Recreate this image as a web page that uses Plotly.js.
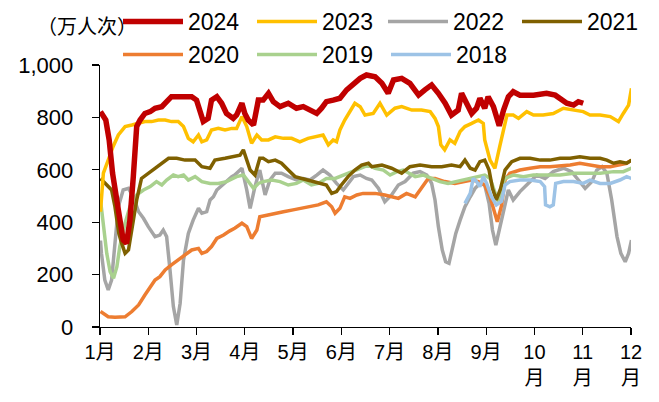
<!DOCTYPE html>
<html>
<head>
<meta charset="utf-8">
<script src="https://cdn.plot.ly/plotly-3.0.1.min.js"></script>
<style>html,body{margin:0;padding:0;background:#fff;}#chart{width:659px;height:402px;}</style>
</head>
<body>
<div id="chart"></div>
<script>
// x = months elapsed since the 1月 tick (0 = 1月, 11 = 12月)
const monthTicks = [0,1,2,3,4,5,6,7,8,9,10,11];
const monthLabels = ["1月","2月","3月","4月","5月","6月","7月","8月","9月","10<br>月","11<br>月","12<br>月"];
const yTicks = [0,200,400,600,800,1000];
const yLabels = ["0","200","400","600","800","1,000"];

const x2024 = [0.01,0.12,0.19,0.26,0.38,0.48,0.55,0.62,0.69,0.76,0.83,0.93,1.04,1.14,1.28,1.38,1.48,1.69,1.90,2.00,2.07,2.14,2.24,2.31,2.42,2.52,2.62,2.76,2.83,2.94,3.00,3.07,3.18,3.28,3.38,3.49,3.59,3.73,3.90,4.07,4.21,4.38,4.49,4.59,4.69,4.83,4.97,5.11,5.25,5.39,5.52,5.70,5.84,5.97,6.08,6.25,6.42,6.60,6.73,6.87,7.01,7.15,7.28,7.42,7.49,7.59,7.70,7.80,7.87,7.97,8.04,8.15,8.27,8.36,8.46,8.56,8.70,8.98,9.25,9.43,9.56,9.67,9.81,9.91,10.01];
const y2024 = [822,790,714,587,447,332,319,408,574,765,790,815,822,835,841,860,879,879,879,866,828,784,796,866,879,854,815,796,809,854,815,790,771,866,866,892,860,841,854,835,841,828,815,835,860,866,873,905,930,949,962,955,930,892,943,949,930,885,905,924,892,854,809,828,892,854,815,835,873,835,879,841,768,828,879,898,885,885,892,885,866,854,847,860,854];

const x2023 = [0.01,0.07,0.17,0.27,0.38,0.52,0.66,0.80,0.93,1.07,1.21,1.35,1.48,1.62,1.73,1.83,1.93,2.04,2.11,2.21,2.31,2.45,2.59,2.73,2.83,2.94,3.04,3.14,3.25,3.35,3.49,3.63,3.80,3.97,4.14,4.31,4.49,4.62,4.73,4.83,4.90,4.97,5.07,5.18,5.28,5.39,5.49,5.66,5.80,5.94,6.11,6.25,6.46,6.66,6.84,6.94,7.01,7.06,7.14,7.25,7.35,7.46,7.56,7.70,7.84,7.94,7.97,8.08,8.18,8.28,8.36,8.43,8.56,8.67,8.84,8.98,9.18,9.39,9.60,9.81,10.01,10.15,10.36,10.57,10.74,10.84,10.95,11.01];
const y2023 = [440,587,637,688,733,765,771,777,784,784,790,790,784,784,765,720,707,733,707,714,752,758,752,758,758,803,765,701,733,714,714,726,720,720,707,720,726,733,695,714,707,752,790,822,854,841,809,815,854,809,835,841,828,828,822,796,765,695,676,714,701,746,765,777,790,777,714,637,605,688,752,809,809,796,822,809,809,815,835,828,822,809,809,803,784,815,847,911];

const x2022 = [0.01,0.03,0.10,0.17,0.24,0.31,0.38,0.48,0.59,0.69,0.80,0.90,1.00,1.14,1.24,1.31,1.38,1.45,1.52,1.59,1.66,1.73,1.83,1.93,2.04,2.11,2.21,2.28,2.35,2.42,2.56,2.73,2.79,2.94,3.04,3.11,3.21,3.31,3.42,3.52,3.63,3.76,3.90,4.07,4.21,4.35,4.49,4.62,4.76,4.90,5.04,5.14,5.25,5.39,5.52,5.63,5.77,5.90,6.04,6.18,6.32,6.49,6.63,6.77,6.87,6.94,7.01,7.09,7.16,7.23,7.30,7.37,7.46,7.56,7.67,7.77,7.87,7.97,8.06,8.13,8.20,8.27,8.36,8.46,8.56,8.70,8.87,9.05,9.22,9.39,9.60,9.77,9.91,10.05,10.19,10.29,10.40,10.50,10.60,10.71,10.79,10.88,10.95,11.01];
const y2022 = [330,281,179,141,179,307,459,523,529,497,440,415,383,345,351,370,345,218,78,8,90,256,357,408,453,434,440,485,497,523,548,574,580,606,523,453,536,599,504,561,587,587,574,561,567,561,580,599,580,548,523,548,574,580,567,561,529,478,504,542,555,587,593,580,548,485,383,294,249,243,307,357,408,459,497,529,548,542,472,370,313,370,434,523,485,517,548,580,567,593,606,593,561,529,555,599,612,587,485,345,281,249,281,332];

const x2021 = [0.01,0.12,0.24,0.31,0.39,0.45,0.52,0.59,0.66,0.76,0.86,1.00,1.14,1.28,1.42,1.59,1.76,1.97,2.11,2.28,2.38,2.59,2.73,2.79,2.90,2.97,3.04,3.11,3.21,3.31,3.38,3.49,3.63,3.76,3.90,4.04,4.18,4.31,4.45,4.59,4.69,4.80,4.90,5.00,5.14,5.28,5.42,5.56,5.63,5.84,6.04,6.25,6.42,6.63,6.87,7.08,7.28,7.46,7.56,7.67,7.77,7.87,7.97,8.06,8.13,8.21,8.30,8.39,8.53,8.70,8.91,9.12,9.32,9.53,9.74,9.94,10.15,10.36,10.50,10.64,10.77,10.91,11.01];
const y2021 = [567,548,523,459,357,319,281,294,370,485,567,587,606,625,644,644,637,637,612,606,637,644,650,650,656,676,637,599,580,644,644,631,637,625,599,574,567,561,555,548,542,510,517,542,574,599,618,625,612,618,606,587,612,618,612,612,618,612,637,606,599,631,637,599,529,485,529,599,631,644,644,637,637,644,644,650,644,644,637,625,631,625,637];

const x2020 = [0.01,0.17,0.31,0.52,0.66,0.80,0.93,1.04,1.14,1.24,1.35,1.48,1.62,1.76,1.90,2.04,2.11,2.21,2.31,2.42,2.56,2.69,2.79,2.94,3.04,3.14,3.25,3.31,3.45,3.63,3.80,4.00,4.18,4.35,4.52,4.69,4.80,4.87,4.97,5.07,5.18,5.32,5.45,5.70,5.90,6.18,6.35,6.53,6.66,6.80,6.94,7.14,7.35,7.56,7.70,7.84,7.97,8.08,8.15,8.23,8.32,8.39,8.49,8.70,8.91,9.12,9.32,9.53,9.74,9.94,10.15,10.36,10.57,10.74,10.91,11.01];
const y2020 = [59,39,37,39,59,84,122,154,179,192,218,237,256,275,294,300,281,288,307,338,351,367,377,396,383,338,370,421,427,434,440,447,453,459,466,478,459,434,453,497,491,504,510,510,504,491,510,497,529,567,567,555,548,555,561,555,542,497,447,402,465,561,587,599,606,612,612,615,618,625,618,612,612,618,625,637];

const x2019 = [0.01,0.07,0.14,0.21,0.28,0.35,0.41,0.52,0.62,0.76,0.90,1.04,1.17,1.28,1.38,1.52,1.62,1.73,1.83,1.97,2.11,2.28,2.45,2.62,2.76,2.83,2.97,3.07,3.18,3.28,3.38,3.56,3.73,3.90,4.07,4.21,4.38,4.52,4.69,4.87,5.04,5.21,5.39,5.56,5.70,5.87,6.01,6.15,6.28,6.39,6.53,6.70,6.87,7.04,7.21,7.39,7.56,7.70,7.84,7.97,8.08,8.18,8.25,8.32,8.39,8.56,8.77,8.98,9.25,9.53,9.81,10.08,10.36,10.64,10.84,11.01];
const y2019 = [485,383,281,211,186,230,307,396,459,504,523,536,555,542,561,580,574,580,561,574,555,548,548,555,567,574,580,555,529,548,555,561,555,542,548,561,542,548,567,567,580,593,606,618,606,599,580,593,599,587,574,580,567,555,548,555,561,567,574,580,567,510,478,536,567,580,574,580,580,580,587,587,587,593,593,606];

const x2018 = [7.56,7.67,7.73,7.80,7.87,7.94,8.01,8.11,8.21,8.32,8.39,8.49,8.70,8.91,9.12,9.21,9.23,9.32,9.39,9.44,9.60,9.81,10.01,10.15,10.36,10.57,10.77,10.91,11.01];
const y2018 = [472,510,567,555,536,574,548,497,466,480,542,555,561,561,555,536,466,459,466,548,555,555,548,561,548,548,561,574,567];

const series = [
  {name:"2022", x:x2022, y:y2022, color:"#A5A5A5", w:3.5, rank:3, lg:"legend2"},
  {name:"2020", x:x2020, y:y2020, color:"#ED7D31", w:3.5, rank:5, lg:"legend3"},
  {name:"2019", x:x2019, y:y2019, color:"#A9D18E", w:3.5, rank:6, lg:"legend3"},
  {name:"2021", x:x2021, y:y2021, color:"#7F6000", w:3.5, rank:4, lg:"legend2"},
  {name:"2018", x:x2018, y:y2018, color:"#9DC3E6", w:3.5, rank:7, lg:"legend3"},
  {name:"2023", x:x2023, y:y2023, color:"#FFC000", w:3.5, rank:2, lg:"legend"},
  {name:"2024", x:x2024, y:y2024, color:"#C00000", w:5.5, rank:1, lg:"legend"}
];

const traces = series.map(s => ({
  type:"scatter", mode:"lines", name:s.name, x:s.x, y:s.y,
  line:{color:s.color, width:s.w, shape:"linear"},
  legend:s.lg, legendrank:s.rank, hoverinfo:"skip"
}));

const numFont = "Liberation Sans, Arial, sans-serif";

function legendBox(px, py) {
  return {
    orientation:"h", xref:"container", yref:"container",
    x:px/659, y:1 - py/402, xanchor:"left", yanchor:"top",
    entrywidth:59, entrywidthmode:"pixels",
    itemwidth:60,
    font:{family:numFont, size:23, color:"#000"},
    bgcolor:"rgba(0,0,0,0)", borderwidth:0,
    traceorder:"normal"
  };
}

const layout = {
  width:659, height:402,
  margin:{l:100, r:28, t:65, b:75, autoexpand:false},
  paper_bgcolor:"#fff", plot_bgcolor:"#fff",
  font:{family:numFont, size:22, color:"#000"},
  showlegend:true,
  legend:legendBox(118, 0),
  legend2:legendBox(383, 0),
  legend3:legendBox(118, 33),
  xaxis:{
    range:[0,11], tickmode:"array", tickvals:monthTicks, ticktext:monthLabels,
    showline:true, linecolor:"#000", linewidth:1.3,
    ticks:"outside", ticklen:7, tickcolor:"#000", tickwidth:1.3,
    showgrid:false, zeroline:false, tickangle:0,
    tickfont:{family:numFont + ", Noto Sans CJK SC", size:20}
  },
  yaxis:{
    range:[0,1000], tickmode:"array", tickvals:yTicks, ticktext:yLabels,
    showline:true, linecolor:"#000", linewidth:1.3,
    ticks:"outside", ticklen:7, tickcolor:"#000", tickwidth:1.3,
    ticklabelstandoff:14,
    showgrid:false, zeroline:false,
    tickfont:{family:numFont, size:22}
  },
  annotations:[{
    text:"（万人次）", xref:"paper", yref:"paper",
    x:(87-100)/531, y:(327-26)/262, xanchor:"center", yanchor:"middle", showarrow:false,
    font:{family:"Noto Sans CJK SC", size:20, color:"#000"}
  }]
};

Plotly.newPlot("chart", traces, layout, {displayModeBar:false, staticPlot:true});
</script>
</body>
</html>
